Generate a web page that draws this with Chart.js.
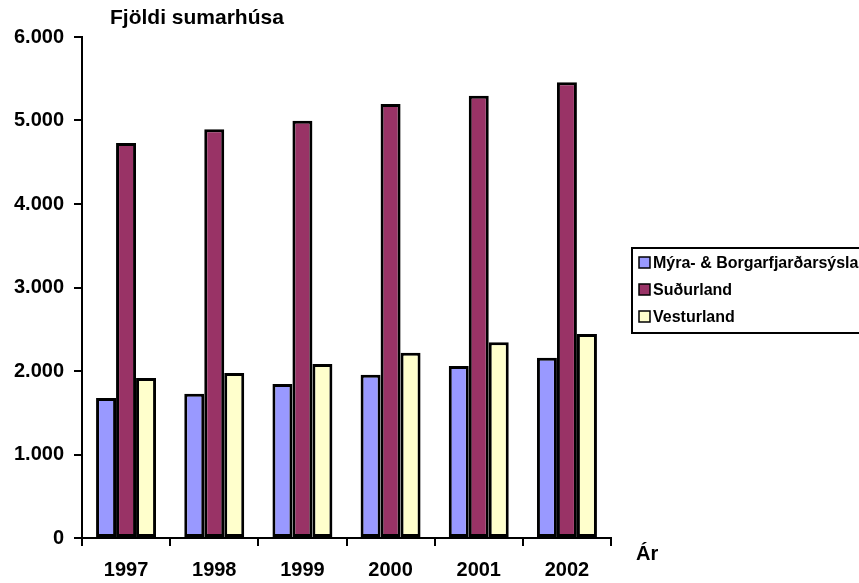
<!DOCTYPE html>
<html>
<head>
<meta charset="utf-8">
<script src="https://cdn.jsdelivr.net/npm/chart.js@4.4.0/dist/chart.umd.min.js"></script>
<style>
  html, body { margin: 0; padding: 0; background: #fff; }
  #wrap { width: 859px; height: 583px; }
</style>
</head>
<body>
<div id="wrap"><canvas id="chart" width="859" height="583"></canvas></div>
<script>
// --- Datos ---
const years = ['1997', '1998', '1999', '2000', '2001', '2002'];
const seriesNames = ['Mýra- & Borgarfjarðarsýsla', 'Suðurland', 'Vesturland'];
const myraBorgarfjordur = [1677, 1728, 1844, 1956, 2060, 2159];
const sudurland = [4730, 4895, 4998, 5198, 5297, 5458];
const vesturland = [1916, 1976, 2084, 2219, 2344, 2443];
const yTicks = [0, 1000, 2000, 3000, 4000, 5000, 6000];
const chartTitle = 'Fjöldi sumarhúsa';
const xTitle = 'Ár';

const colors = ['#9999FF', '#993366', '#FFFFCC'];
const fontFamily = '"Liberation Sans", Arial, sans-serif';

function formatThousands(v) {
    return String(v).replace(/\B(?=(\d{3})+(?!\d))/g, '.');
}

// Título, etiqueta del eje X y leyenda dibujados a mano
const extrasPlugin = {
    id: 'extras',
    afterDraw(chart) {
        const ctx = chart.ctx;
        const area = chart.chartArea;
        ctx.save();
        ctx.fillStyle = '#000';
        ctx.font = 'bold 21px ' + fontFamily;
        ctx.textBaseline = 'alphabetic';
        ctx.textAlign = 'left';
        ctx.fillText(chartTitle, area.left + 28, 24);
        ctx.font = 'bold 20px ' + fontFamily;
        ctx.fillText(xTitle, area.right + 25, 560);

        // leyenda
        const lx = 632, ly = 248, lw = 240, lh = 85;
        ctx.lineWidth = 2;
        ctx.strokeStyle = '#000';
        ctx.strokeRect(lx, ly, lw, lh);
        ctx.font = 'bold 16px ' + fontFamily;
        ctx.textBaseline = 'middle';
        seriesNames.forEach((name, i) => {
            const cy = ly + 15 + i * 27;
            ctx.fillStyle = colors[i];
            ctx.fillRect(lx + 7, cy - 6, 11, 11);
            ctx.lineWidth = 1.5;
            ctx.strokeRect(lx + 7, cy - 6, 11, 11);
            ctx.fillStyle = '#000';
            ctx.fillText(name, lx + 21, cy + 1);
        });
        ctx.restore();
    }
};

const datasets = [myraBorgarfjordur, sudurland, vesturland].map((data, i) => ({
    label: seriesNames[i],
    data: data,
    backgroundColor: colors[i],
    borderColor: '#000',
    borderWidth: 3,
    borderSkipped: false,
    barPercentage: 1,
    categoryPercentage: 0.68
}));

new Chart(document.getElementById('chart'), {
    type: 'bar',
    data: { labels: years, datasets: datasets },
    plugins: [extrasPlugin],
    options: {
        responsive: false,
        animation: false,
        layout: { padding: { top: 37, right: 248, bottom: 0, left: 0 } },
        plugins: {
            legend: { display: false },
            title: { display: false },
            tooltip: { enabled: false }
        },
        scales: {
            x: {
                grid: { display: true, drawOnChartArea: false, drawTicks: true, tickLength: 8, color: '#000', lineWidth: 2, offset: true },
                border: { display: true, color: '#000', width: 2 },
                ticks: {
                    color: '#000',
                    font: { family: fontFamily, size: 20, weight: 'bold' },
                    padding: 12
                },
                afterFit(scale) { scale.height = 45; }
            },
            y: {
                min: 0,
                max: 6000,
                afterBuildTicks(scale) { scale.ticks = yTicks.map(v => ({ value: v })); },
                grid: { display: true, drawOnChartArea: false, drawTicks: true, tickLength: 8, color: '#000', lineWidth: 2 },
                border: { display: true, color: '#000', width: 2 },
                ticks: {
                    color: '#000',
                    font: { family: fontFamily, size: 20, weight: 'bold' },
                    padding: 10,
                    callback: v => formatThousands(v)
                },
                afterFit(scale) { scale.width = 82; }
            }
        }
    }
});
</script>
</body>
</html>
